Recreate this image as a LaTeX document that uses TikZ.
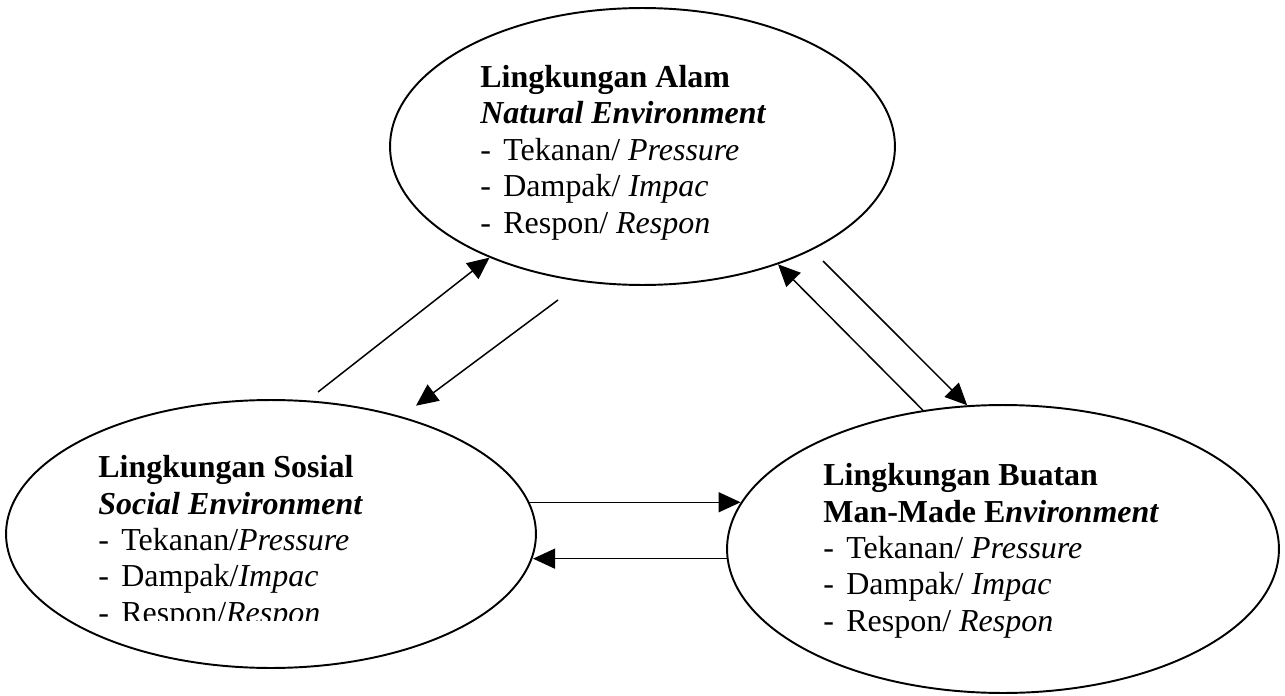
\documentclass[tikz,border=0pt]{standalone}
\usepackage{fontspec}
\setmainfont{Liberation Serif}
\usetikzlibrary{shapes.geometric,arrows.meta}
\newcommand{\envitem}[1]{\makebox[0.72em][l]{-}#1}

\begin{document}
\begin{tikzpicture}[x=0.02cm, y=-0.02cm,
  env/.style={draw, ellipse, line width=1.1pt, inner sep=0pt},
  envtext/.style={anchor=north west, align=left, inner sep=0pt, font=\fontsize{18.2}{20.75}\selectfont},
  flow/.style={-{Triangle[length=0.44cm, width=0.4cm]}, line width=0.85pt}]
\useasboundingbox (0,0) rectangle (1285,696);
% the three environments
\node[env, minimum width=10.1cm, minimum height=5.54cm] (alam) at (642.5,146.5) {};
\node[env, minimum width=10.6cm, minimum height=5.36cm] (sosial) at (271,534) {};
\node[env, minimum width=11.04cm, minimum height=5.76cm] (buatan) at (1003,549) {};
\node[envtext] (alamtext) at (480,65) {\textbf{Lingkungan Alam}\\
  \textbf{\textit{Natural Environment}}\\
  \envitem{Tekanan/ \textit{Pressure}}\\
  \envitem{Dampak/ \textit{Impac}}\\
  \envitem{Respon/ \textit{Respon}}};
\begin{scope}
\clip (0,0) rectangle (1285,620);
\node[envtext] (sosialtext) at (98,455) {\textbf{Lingkungan Sosial}\\
  \textbf{\textit{Social Environment}}\\
  \envitem{Tekanan/\textit{Pressure}}\\
  \envitem{Dampak/\textit{Impac}}\\
  \envitem{Respon/\textit{Respon}}};
\end{scope}
\node[envtext] (buatantext) at (823,463) {\textbf{Lingkungan Buatan}\\
  \textbf{Man-Made E\textit{nvironment}}\\
  \envitem{Tekanan/ \textit{Pressure}}\\
  \envitem{Dampak/ \textit{Impac}}\\
  \envitem{Respon/ \textit{Respon}}};
% free ends of the slanted arrows
\coordinate (s2a) at (318,392);
\coordinate (a2s) at (558,300);
\coordinate (a2b) at (823,261);
\draw[flow] (s2a) -- (alam.216);
\draw[flow, shorten >=0.36cm] (a2s) -- (sosial.42);
\draw[flow] (buatan.120) -- (alam.319);
\draw[flow] (a2b) -- (buatan.104);
\draw[flow] (sosial.7) -- (buatan.170 |- sosial.7);
\draw[flow] (buatan.182) -- (sosial.355 |- buatan.182);
\end{tikzpicture}
\end{document}
